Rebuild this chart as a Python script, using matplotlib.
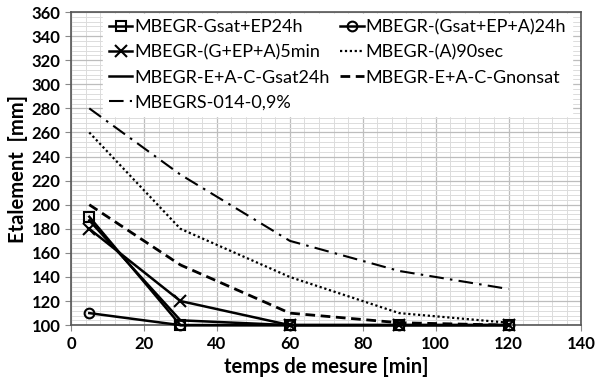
import matplotlib
matplotlib.use("Agg")
import matplotlib.pyplot as plt
from matplotlib.ticker import MultipleLocator

plt.rcParams['font.family'] = ['Lato', 'DejaVu Sans']

# data
temps = [5, 30, 60, 90, 120]
gsat_ep_24h = [190, 100, 100, 100, 100]
gsat_ep_a_24h = [110, 100, 100, 100, 100]
g_ep_a_5min = [180, 120, 100, 100, 100]
a_90sec = [260, 180, 140, 110, 102]
eac_gsat_24h = [187, 104, 100, 100, 100]
eac_gnonsat = [200, 150, 110, 102, 100]
mbegrs_014 = [280, 225, 170, 145, 130]

fig = plt.figure(figsize=(5.97, 3.88), dpi=100)
ax = fig.add_axes([0.119, 0.162, 0.855, 0.807])

lw = 1.8
h1, = ax.plot(temps, gsat_ep_24h, color='black', lw=lw, marker='s', ms=7,
              mfc='none', mew=1.5, clip_on=False, zorder=4,
              label='MBEGR-Gsat+EP24h')
h2, = ax.plot(temps, gsat_ep_a_24h, color='black', lw=lw, marker='o', ms=7,
              mfc='none', mew=1.5, clip_on=False, zorder=3,
              label='MBEGR-(Gsat+EP+A)24h')
h3, = ax.plot(temps, g_ep_a_5min, color='black', lw=lw, marker='x', ms=8,
              mew=1.5, clip_on=False, zorder=4, label='MBEGR-(G+EP+A)5min')
h4, = ax.plot(temps, a_90sec, color='black', lw=1.6, ls=(0, (1, 1.2)),
              label='MBEGR-(A)90sec')
h5, = ax.plot(temps, eac_gsat_24h, color='black', lw=lw,
              label='MBEGR-E+A-C-Gsat24h')
h6, = ax.plot(temps, eac_gnonsat, color='black', lw=2, ls=(0, (3.5, 2)),
              label='MBEGR-E+A-C-Gnonsat')
h7, = ax.plot(temps, mbegrs_014, color='black', lw=1.5,
              ls=(0, (7, 3, 1.2, 3)), label='MBEGRS-014-0,9%')

ax.set_xlim(0, 140)
ax.set_ylim(100, 360)
ax.xaxis.set_major_locator(MultipleLocator(20))
ax.yaxis.set_major_locator(MultipleLocator(20))
ax.xaxis.set_minor_locator(MultipleLocator(4))
ax.yaxis.set_minor_locator(MultipleLocator(4))
ax.grid(which='major', color='#bdbdbd', lw=0.9)
ax.grid(which='minor', color='#dcdcdc', lw=0.7)
ax.set_axisbelow(True)
ax.tick_params(which='minor', length=0)
ax.tick_params(which='major', length=4, color='#888888', labelsize=12)
for lab in ax.get_xticklabels() + ax.get_yticklabels():
    lab.set_fontweight('bold')
for s in ax.spines.values():
    s.set_color('#555555')
    s.set_linewidth(1.2)

ax.set_xlabel('temps de mesure [min]', fontsize=14.5, fontweight='bold')
ax.set_ylabel('Etalement  [mm]', fontsize=14.5, fontweight='bold', labelpad=3)

handles = [h1, h3, h5, h7, h2, h4, h6]
leg = ax.legend(handles=handles, ncol=2, loc='upper left',
                bbox_to_anchor=(0.06, 1.0), fontsize=13, frameon=True,
                fancybox=False, edgecolor='white', framealpha=1,
                handlelength=1.3, handletextpad=0.1, columnspacing=0.6,
                labelspacing=0.5, borderaxespad=0.1, borderpad=0.3)
leg.set_zorder(10)

fig.savefig('out.png', dpi=100)
